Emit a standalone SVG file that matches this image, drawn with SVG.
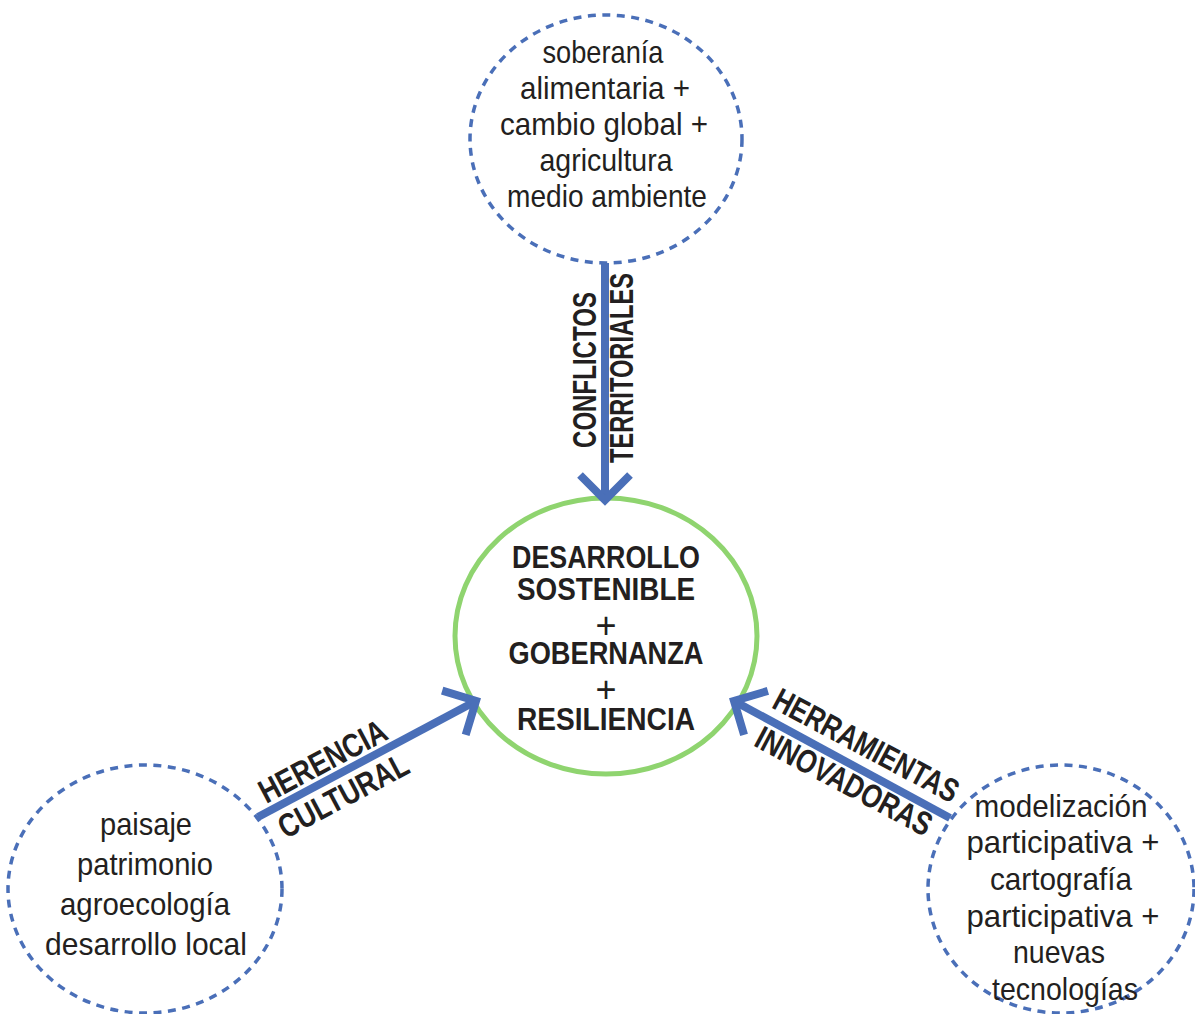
<svg xmlns="http://www.w3.org/2000/svg" width="1195" height="1014" viewBox="0 0 1195 1014">
<style>
.dash{fill:none;stroke:#4a6fb8;stroke-width:3.5;stroke-dasharray:8 6.5}
.core{fill:#fff;stroke:#8fd46f;stroke-width:5}
.conn{fill:none;stroke:#4a6fb8;stroke-width:8}
.t{font-family:"Liberation Sans",Arial,sans-serif;font-size:32px;fill:#231f20;text-anchor:middle}
.b{font-family:"Liberation Sans",Arial,sans-serif;font-weight:bold;font-size:32px;fill:#231f20;text-anchor:middle}
.p{font-family:"Liberation Sans",Arial,sans-serif;font-size:36px;fill:#231f20;text-anchor:middle}
.l{font-family:"Liberation Sans",Arial,sans-serif;font-weight:bold;font-size:33px;fill:#231f20;text-anchor:middle}
</style>
<defs>
<marker id="chev" markerUnits="userSpaceOnUse" viewBox="-40 -40 50 80" markerWidth="50" markerHeight="80" refX="0" refY="0" orient="auto" overflow="visible">
<path d="M-25 -25 L0 0 L-25 25" fill="none" stroke="#4a6fb8" stroke-width="8" stroke-linejoin="miter"/>
</marker>
</defs>
<rect width="1195" height="1014" fill="#fff"/>
<g id="center">
<ellipse class="core" cx="606" cy="636" rx="151" ry="138"/>
<text class="b" x="606" y="568" textLength="188" lengthAdjust="spacingAndGlyphs">DESARROLLO</text>
<text class="b" x="606" y="600" textLength="178" lengthAdjust="spacingAndGlyphs">SOSTENIBLE</text>
<text class="p" x="606" y="638">+</text>
<text class="b" x="606" y="664" textLength="195" lengthAdjust="spacingAndGlyphs">GOBERNANZA</text>
<text class="p" x="606" y="702">+</text>
<text class="b" x="606" y="730" textLength="178" lengthAdjust="spacingAndGlyphs">RESILIENCIA</text>
</g>
<g id="top">
<ellipse class="dash" cx="606" cy="139" rx="136" ry="124"/>
<text class="t" x="603" y="63" textLength="121" lengthAdjust="spacingAndGlyphs">soberanía</text>
<text class="t" x="605" y="99" textLength="170" lengthAdjust="spacingAndGlyphs">alimentaria +</text>
<text class="t" x="604" y="135" textLength="208" lengthAdjust="spacingAndGlyphs">cambio global +</text>
<text class="t" x="606" y="171" textLength="133" lengthAdjust="spacingAndGlyphs">agricultura</text>
<text class="t" x="607" y="207" textLength="200" lengthAdjust="spacingAndGlyphs">medio ambiente</text>
</g>
<g id="left">
<ellipse class="dash" cx="145" cy="889" rx="137" ry="124"/>
<text class="t" x="146" y="835" textLength="92" lengthAdjust="spacingAndGlyphs">paisaje</text>
<text class="t" x="145" y="875" textLength="136" lengthAdjust="spacingAndGlyphs">patrimonio</text>
<text class="t" x="145" y="915" textLength="170" lengthAdjust="spacingAndGlyphs">agroecología</text>
<text class="t" x="146" y="955" textLength="202" lengthAdjust="spacingAndGlyphs">desarrollo local</text>
</g>
<g id="right">
<ellipse class="dash" cx="1061" cy="889" rx="133" ry="124"/>
<text class="t" x="1061" y="817" textLength="173" lengthAdjust="spacingAndGlyphs">modelización</text>
<text class="t" x="1063" y="853" textLength="193" lengthAdjust="spacingAndGlyphs">participativa +</text>
<text class="t" x="1061" y="890" textLength="142" lengthAdjust="spacingAndGlyphs">cartografía</text>
<text class="t" x="1063" y="927" textLength="193" lengthAdjust="spacingAndGlyphs">participativa +</text>
<text class="t" x="1059" y="963" textLength="92" lengthAdjust="spacingAndGlyphs">nuevas</text>
<text class="t" x="1065" y="1000" textLength="146" lengthAdjust="spacingAndGlyphs">tecnologías</text>
</g>
<g id="connectors">
<path class="conn" d="M605 263 L605 500" marker-end="url(#chev)"/>
<path class="conn" d="M258 817 L476 701" marker-end="url(#chev)"/>
<path class="conn" d="M950 818 L734 701" marker-end="url(#chev)"/>
<text class="l" transform="translate(596,370) rotate(-90)" textLength="156" lengthAdjust="spacingAndGlyphs">CONFLICTOS</text>
<text class="l" transform="translate(633,368) rotate(-90)" textLength="190" lengthAdjust="spacingAndGlyphs">TERRITORIALES</text>
<g transform="translate(368,759) rotate(-28)">
<text class="l" x="-41" y="-8" textLength="140" lengthAdjust="spacingAndGlyphs">HERENCIA</text>
<text class="l" x="-39" y="32" textLength="143" lengthAdjust="spacingAndGlyphs">CULTURAL</text>
</g>
<g transform="translate(842,759) rotate(28)">
<text class="l" x="15" y="-12" textLength="205" lengthAdjust="spacingAndGlyphs">HERRAMIENTAS</text>
<text class="l" x="12" y="30" textLength="195" lengthAdjust="spacingAndGlyphs">INNOVADORAS</text>
</g>
</g>
</svg>
